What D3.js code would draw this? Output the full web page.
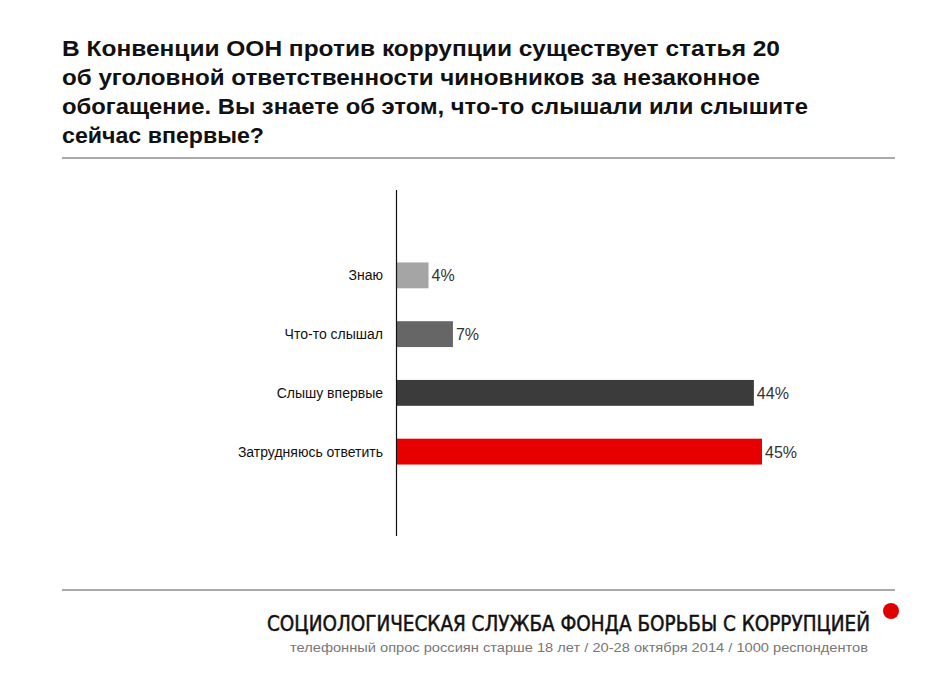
<!DOCTYPE html>
<html><head><meta charset="utf-8">
<script src="https://cdn.jsdelivr.net/npm/d3@7"></script>
<style>body{margin:0;background:#fff}</style></head>
<body><svg id="c" width="928" height="686"></svg>
<script>
const categories = ["Знаю", "Что-то слышал", "Слышу впервые", "Затрудняюсь ответить"];
const values = [4, 7, 44, 45];
const colors = ["#a5a5a5", "#666666", "#3b3b3b", "#e60000"];
const titleLines = [
  "В Конвенции ООН против коррупции существует статья 20",
  "об уголовной ответственности чиновников за незаконное",
  "обогащение. Вы знаете об этом, что-то слышали или слышите",
  "сейчас впервые?"
];
const titleWidths = [718, 698, 746, 202];

const svg = d3.select("#c");
const font = "Helvetica, Arial, 'Liberation Sans', sans-serif";

svg.append("g").selectAll("text").data(titleLines).join("text")
  .attr("x", 62).attr("y", (d, i) => 56 + i * 29)
  .attr("font-family", font).attr("font-weight", "bold").attr("font-size", 22)
  .attr("textLength", (d, i) => titleWidths[i]).attr("lengthAdjust", "spacingAndGlyphs")
  .attr("fill", "#111").text(d => d);

svg.append("line").attr("x1", 62).attr("x2", 895).attr("y1", 158).attr("y2", 158)
  .attr("stroke", "#555").attr("stroke-width", 1);
svg.append("line").attr("x1", 62).attr("x2", 895).attr("y1", 590).attr("y2", 590)
  .attr("stroke", "#555").attr("stroke-width", 1);

const x = d3.scaleLinear().domain([0, 45]).range([396, 762]);
const y = d3.scaleBand().domain(categories).range([246, 481]).paddingInner(0.56).paddingOuter(0.28);

svg.append("g").selectAll("rect").data(categories).join("rect")
  .attr("x", x(0)).attr("y", d => y(d))
  .attr("width", (d, i) => x(values[i]) - x(0)).attr("height", y.bandwidth())
  .attr("fill", (d, i) => colors[i]);

svg.append("line").attr("x1", 396.5).attr("x2", 396.5).attr("y1", 190).attr("y2", 536)
  .attr("stroke", "#111").attr("stroke-width", 1.2);

svg.append("g").selectAll("text").data(categories).join("text")
  .attr("x", 383).attr("y", d => y(d) + y.bandwidth() / 2 + 5)
  .attr("text-anchor", "end").attr("font-family", font).attr("font-size", 14)
  .attr("fill", "#111").text(d => d);

svg.append("g").selectAll("text").data(categories).join("text")
  .attr("x", (d, i) => x(values[i]) + 3).attr("y", d => y(d) + y.bandwidth() / 2 + 6)
  .attr("font-family", font).attr("font-size", 16)
  .attr("fill", "#333").text((d, i) => values[i] + "%");

svg.append("text").attr("x", 267).attr("y", 631)
  .attr("font-family", "'Liberation Sans Narrow', 'DejaVu Sans Condensed', Arial, sans-serif")
  .attr("font-size", 22).attr("fill", "#111").attr("stroke", "#111").attr("stroke-width", 0.5)
  .attr("textLength", 603).attr("lengthAdjust", "spacingAndGlyphs")
  .text("СОЦИОЛОГИЧЕСКАЯ СЛУЖБА ФОНДА БОРЬБЫ С КОРРУПЦИЕЙ");
svg.append("circle").attr("cx", 891).attr("cy", 611).attr("r", 8).attr("fill", "#e00000");
svg.append("text").attr("x", 868).attr("y", 652).attr("text-anchor", "end")
  .attr("font-family", font).attr("font-size", 13.5).attr("fill", "#777")
  .attr("textLength", 578).attr("lengthAdjust", "spacingAndGlyphs")
  .text("телефонный опрос россиян старше 18 лет / 20-28 октября 2014 / 1000 респондентов");
</script></body></html>
